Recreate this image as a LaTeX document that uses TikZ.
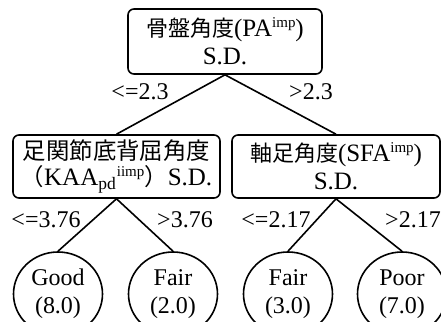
\documentclass[tikz,border=0pt]{standalone}
\usepackage{fontspec}
\setmainfont{Liberation Serif}
\newfontfamily\jp{Noto Sans CJK JP}
\usetikzlibrary{shapes.geometric}
\newcommand\jptext[2]{{\jp\fontsize{#1}{14}\selectfont #2}}
\newcommand\upidx[1]{\raisebox{0.75ex}{\fontsize{7.5}{8}\selectfont #1}}
\tikzset{
        split/.style={draw, line width=0.8pt, rounded corners=3pt, align=center, inner sep=1pt, font=\fontsize{12.5}{14}\selectfont},
        leaf/.style={draw, line width=0.8pt, ellipse, minimum width=44.5pt, minimum height=42pt, align=center, inner sep=0pt, font=\fontsize{12}{14}\selectfont},
        cond/.style={inner sep=0pt, font=\fontsize{12}{14}\selectfont}
    }

\begin{document}
\begin{tikzpicture}[x=0.5pt, y=-0.5pt, line width=0.8pt]
            \useasboundingbox (0,0) rectangle (441,322);
            \clip (0,0) rectangle (441,322);
            \node [split, minimum width=97pt, minimum height=32.5pt] (pa) at (225, 41.5) {\jptext{11}{骨盤角度}(PA\upidx{imp})\\S.D.};
            \node [split, minimum width=103.5pt, minimum height=31.5pt] (kaa) at (116.5, 166.5) {\jptext{11.7}{足関節底背屈角度}\\[-1pt]\jptext{11.7}{（}KAA\textsubscript{pd}\upidx{iimp}\jptext{11.7}{）}S.D.};
            \node [split, minimum width=104pt, minimum height=31.5pt] (sfa) at (336, 166.5) {\jptext{11}{軸足角度}(SFA\upidx{imp})\\S.D.};
            \node [leaf] (good) at (58, 294) {Good\\(8.0)};
            \node [leaf] (fair1) at (173, 294) {Fair\\(2.0)};
            \node [leaf] (fair2) at (288, 294) {Fair\\(3.0)};
            \node [leaf] (poor) at (402, 294) {Poor\\(7.0)};

            \node [cond] (c1) at (140, 92) {<=2.3};
            \node [cond] (c2) at (311, 92) {>2.3};
            \node [cond] (c3) at (46, 220) {<=3.76};
            \node [cond] (c4) at (185, 220) {>3.76};
            \node [cond] (c5) at (276, 220) {<=2.17};
            \node [cond] (c6) at (413, 220) {>2.17};

            \draw (pa.south) -- (kaa.north);
            \draw (pa.south) -- (sfa.north);
            \draw (kaa.south) -- (good.north);
            \draw (kaa.south) -- (fair1.north);
            \draw (sfa.south) -- (fair2.north);
            \draw (sfa.south) -- (poor.north);
        \end{tikzpicture}
\end{document}
